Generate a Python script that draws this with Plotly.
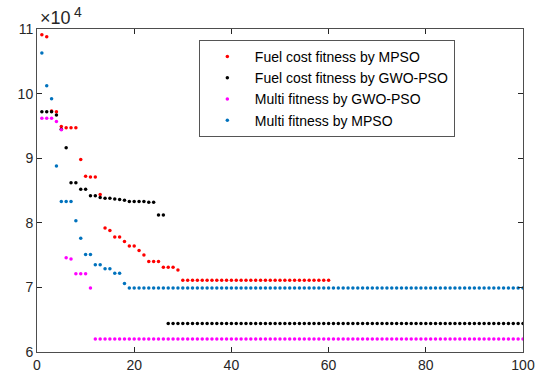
import plotly.graph_objects as go

# values in units of 1e4
fuel_mpso = [
    10.91, 10.88, 9.73, 9.72, 9.49, 9.47, 9.47, 9.47, 8.98, 8.72,
    8.71, 8.71, 8.44, 7.92, 7.88, 7.78, 7.78, 7.71, 7.64, 7.64,
    7.57, 7.50, 7.40, 7.40, 7.40, 7.31, 7.31, 7.31, 7.27, 7.11,
    7.11, 7.11, 7.11, 7.11, 7.11, 7.11, 7.11, 7.11, 7.11, 7.11,
    7.11, 7.11, 7.11, 7.11, 7.11, 7.11, 7.11, 7.11, 7.11, 7.11,
    7.11, 7.11, 7.11, 7.11, 7.11, 7.11, 7.11, 7.11, 7.11, 7.11,
]
fuel_gwopso = [
    9.72, 9.72, 9.72, 9.67, 9.45, 9.16, 8.62, 8.62, 8.52, 8.52,
    8.42, 8.42, 8.39, 8.38, 8.38, 8.37, 8.36, 8.35, 8.33, 8.33,
    8.33, 8.33, 8.32, 8.32, 8.12, 8.12, 6.44, 6.44, 6.44, 6.44,
    6.44, 6.44, 6.44, 6.44, 6.44, 6.44, 6.44, 6.44, 6.44, 6.44,
    6.44, 6.44, 6.44, 6.44, 6.44, 6.44, 6.44, 6.44, 6.44, 6.44,
    6.44, 6.44, 6.44, 6.44, 6.44, 6.44, 6.44, 6.44, 6.44, 6.44,
    6.44, 6.44, 6.44, 6.44, 6.44, 6.44, 6.44, 6.44, 6.44, 6.44,
    6.44, 6.44, 6.44, 6.44, 6.44, 6.44, 6.44, 6.44, 6.44, 6.44,
    6.44, 6.44, 6.44, 6.44, 6.44, 6.44, 6.44, 6.44, 6.44, 6.44,
    6.44, 6.44, 6.44, 6.44, 6.44, 6.44, 6.44, 6.44, 6.44, 6.44,
]
multi_gwopso = [
    9.62, 9.62, 9.62, 9.57, 9.44, 7.46, 7.44, 7.21, 7.21, 7.21,
    6.99, 6.20, 6.20, 6.20, 6.20, 6.20, 6.20, 6.20, 6.20, 6.20,
    6.20, 6.20, 6.20, 6.20, 6.20, 6.20, 6.20, 6.20, 6.20, 6.20,
    6.20, 6.20, 6.20, 6.20, 6.20, 6.20, 6.20, 6.20, 6.20, 6.20,
    6.20, 6.20, 6.20, 6.20, 6.20, 6.20, 6.20, 6.20, 6.20, 6.20,
    6.20, 6.20, 6.20, 6.20, 6.20, 6.20, 6.20, 6.20, 6.20, 6.20,
    6.20, 6.20, 6.20, 6.20, 6.20, 6.20, 6.20, 6.20, 6.20, 6.20,
    6.20, 6.20, 6.20, 6.20, 6.20, 6.20, 6.20, 6.20, 6.20, 6.20,
    6.20, 6.20, 6.20, 6.20, 6.20, 6.20, 6.20, 6.20, 6.20, 6.20,
    6.20, 6.20, 6.20, 6.20, 6.20, 6.20, 6.20, 6.20, 6.20, 6.20,
]
multi_mpso = [
    10.63, 10.12, 9.92, 8.88, 8.33, 8.33, 8.33, 8.03, 7.76, 7.51,
    7.51, 7.35, 7.35, 7.29, 7.29, 7.22, 7.22, 7.06, 6.99, 6.99,
    6.99, 6.99, 6.99, 6.99, 6.99, 6.99, 6.99, 6.99, 6.99, 6.99,
    6.99, 6.99, 6.99, 6.99, 6.99, 6.99, 6.99, 6.99, 6.99, 6.99,
    6.99, 6.99, 6.99, 6.99, 6.99, 6.99, 6.99, 6.99, 6.99, 6.99,
    6.99, 6.99, 6.99, 6.99, 6.99, 6.99, 6.99, 6.99, 6.99, 6.99,
    6.99, 6.99, 6.99, 6.99, 6.99, 6.99, 6.99, 6.99, 6.99, 6.99,
    6.99, 6.99, 6.99, 6.99, 6.99, 6.99, 6.99, 6.99, 6.99, 6.99,
    6.99, 6.99, 6.99, 6.99, 6.99, 6.99, 6.99, 6.99, 6.99, 6.99,
    6.99, 6.99, 6.99, 6.99, 6.99, 6.99, 6.99, 6.99, 6.99, 6.99,
]

series_names = [
    "Fuel cost fitness by MPSO",
    "Fuel cost fitness by GWO-PSO",
    "Multi fitness by GWO-PSO",
    "Multi fitness by MPSO",
]
series_data = [fuel_mpso, fuel_gwopso, multi_gwopso, multi_mpso]
series_colors = ["#FF0000", "#000000", "#FF00FF", "#0072BD"]

x_ticks = [0, 20, 40, 60, 80, 100]
y_ticks = [6, 7, 8, 9, 10, 11]

FONT = "Liberation Sans, Arial, sans-serif"

fig = go.Figure()
for name, vals, col in zip(series_names, series_data, series_colors):
    fig.add_trace(go.Scatter(
        x=list(range(1, len(vals) + 1)), y=vals, mode="markers", name=name,
        marker=dict(color=col, size=3.5, symbol="circle", line=dict(width=0)),
    ))

axis_common = dict(
    showgrid=False, zeroline=False, showline=True, linecolor="#4d4d4d",
    linewidth=1, mirror="ticks", ticks="inside", ticklen=5, tickcolor="#262626",
    tickfont=dict(family=FONT, size=14, color="#262626"), automargin=False,
)
fig.update_xaxes(range=[0, 100], tickvals=x_ticks, **axis_common)
fig.update_yaxes(range=[6, 11], tickvals=y_ticks, **axis_common)

# exponent label "×10^4"
fig.add_annotation(
    xref="paper", yref="paper", x=0.0, y=1.0, xanchor="left", yanchor="bottom",
    text="\u00d710", showarrow=False,
    font=dict(family=FONT, size=18, color="#262626"),
    xshift=1, yshift=-1,
)
fig.add_annotation(
    xref="paper", yref="paper", x=0.0, y=1.0, xanchor="left", yanchor="bottom",
    text="4", showarrow=False,
    font=dict(family=FONT, size=14, color="#262626"),
    xshift=35, yshift=7,
)

fig.update_layout(
    width=538, height=372,
    margin=dict(l=37, r=15, t=29, b=20),
    paper_bgcolor="white", plot_bgcolor="white",
    showlegend=True,
    legend=dict(
        x=0.333, y=0.966, xanchor="left", yanchor="top",
        bordercolor="#555555", borderwidth=1, bgcolor="white",
        font=dict(family=FONT, size=14, color="#000000"),
        itemwidth=45, tracegroupgap=0,
    ),
)

fig.write_html("out.html")
